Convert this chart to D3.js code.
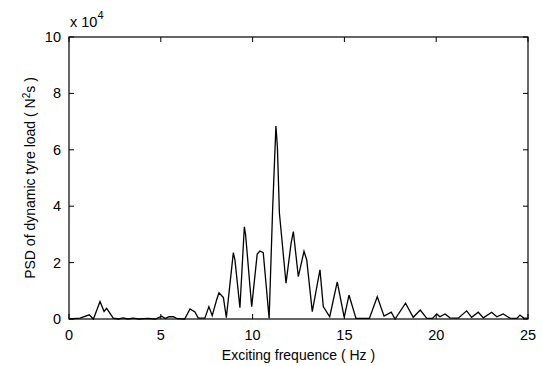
<!DOCTYPE html>
<html>
<head>
<meta charset="utf-8">
<script src="https://cdn.jsdelivr.net/npm/d3@7"></script>
<style>
  body { margin: 0; background: #fff; }
  svg { font-family: "Liberation Sans", Arial, sans-serif; }
  .tick-label { font-size: 14.5px; fill: #000; }
  .axis-title { font-size: 14px; fill: #000; }
</style>
</head>
<body>
<svg id="chart" width="542" height="366"></svg>
<script>
// exciting frequency (Hz)
const freq = [0, 0.6, 1.1, 1.33, 1.69, 1.91, 2.05, 2.41, 2.7, 2.95, 3.2, 3.5, 3.8, 4.3, 4.7,
  5.05, 5.25, 5.45, 5.68, 5.9, 6.3, 6.59, 6.86, 7.04, 7.4, 7.62, 7.8, 8.05, 8.17, 8.41,
  8.57, 8.95, 9.04, 9.31, 9.55, 9.62, 9.95, 10.25, 10.4, 10.58, 10.9, 11.09, 11.27, 11.35,
  11.46, 11.82, 12.1, 12.22, 12.49, 12.8, 12.95, 13.25, 13.6, 13.67, 13.85, 14.2, 14.61,
  14.99, 15.25, 15.63, 16.36, 16.79, 17.16, 17.55, 17.76, 18.33, 18.75, 19.13, 19.48,
  19.8, 20.03, 20.2, 20.48, 20.75, 21.2, 21.66, 21.93, 22.29, 22.57, 23.02, 23.3, 23.65,
  24.02, 24.4, 24.56, 24.75, 25];
// PSD of dynamic tyre load, in units of 1e4 N^2 s
const psd = [0, 0.03, 0.15, 0, 0.62, 0.27, 0.38, 0.03, 0, 0.04, 0, 0.03, 0, 0.02, 0,
  0.1, 0.02, 0.08, 0.08, 0.01, 0, 0.36, 0.25, 0.03, 0.03, 0.44, 0.12, 0.7, 0.93, 0.76,
  0.05, 2.35, 2.09, 0.4, 3.27, 2.98, 0.44, 2.3, 2.41, 2.35, 0.02, 3.87, 6.84, 6.11,
  3.76, 1.27, 2.7, 3.1, 1.5, 2.4, 2.09, 0.26, 1.5, 1.74, 0.44, 0.08, 1.32,
  0.06, 0.85, 0.02, 0.02, 0.79, 0.1, 0.24, 0, 0.56, 0.06, 0.32, 0.03,
  0.02, 0.18, 0.08, 0.18, 0.04, 0.03, 0.29, 0.06, 0.24, 0.04, 0.24, 0.08, 0.18,
  0.03, 0.02, 0.14, 0.04, 0.02];

const xTicks = [0, 5, 10, 15, 20, 25];
const yTicks = [0, 2, 4, 6, 8, 10];

const margin = { top: 37, right: 14, bottom: 47, left: 69 };
const width = 542 - margin.left - margin.right;
const height = 366 - margin.top - margin.bottom;

const svg = d3.select('#chart');
const g = svg.append('g').attr('transform', `translate(${margin.left},${margin.top})`);

const x = d3.scaleLinear().domain([0, 25]).range([0, width]);
const y = d3.scaleLinear().domain([0, 10]).range([height, 0]);

// box
g.append('rect')
  .attr('x', 0).attr('y', 0)
  .attr('width', width).attr('height', height)
  .attr('fill', 'none').attr('stroke', '#000').attr('stroke-width', 1.2);

// inward ticks on all four sides
const tickLen = 5;
const tk = g.append('g').attr('stroke', '#000').attr('stroke-width', 1);
xTicks.forEach(t => {
  tk.append('line').attr('x1', x(t)).attr('x2', x(t)).attr('y1', height).attr('y2', height - tickLen);
  tk.append('line').attr('x1', x(t)).attr('x2', x(t)).attr('y1', 0).attr('y2', tickLen);
});
yTicks.forEach(t => {
  tk.append('line').attr('x1', 0).attr('x2', tickLen).attr('y1', y(t)).attr('y2', y(t));
  tk.append('line').attr('x1', width).attr('x2', width - tickLen).attr('y1', y(t)).attr('y2', y(t));
});

// tick labels
g.selectAll('.xl').data(xTicks).enter().append('text')
  .attr('class', 'tick-label')
  .attr('x', d => x(d)).attr('y', height + 21)
  .attr('text-anchor', 'middle')
  .text(d => d);

g.selectAll('.yl').data(yTicks).enter().append('text')
  .attr('class', 'tick-label')
  .attr('x', -8).attr('y', d => y(d) + 5)
  .attr('text-anchor', 'end')
  .text(d => d);

// exponent label
const ex = g.append('text').attr('class', 'tick-label').attr('x', 1).attr('y', -10);
ex.append('tspan').text('x 10');
ex.append('tspan').attr('dy', -8).attr('font-size', 11).text('4');

// axis titles
g.append('text').attr('class', 'axis-title')
  .attr('x', width / 2).attr('y', height + 41)
  .attr('text-anchor', 'middle')
  .text('Exciting frequence ( Hz )');

const yt = g.append('text').attr('class', 'axis-title')
  .attr('transform', `translate(-34,${height / 2}) rotate(-90)`)
  .attr('text-anchor', 'middle');
yt.append('tspan').text('PSD of dynamic tyre load ( N');
yt.append('tspan').attr('dy', -5).attr('font-size', 10).text('2');
yt.append('tspan').attr('dy', 5).text('s )');

// data line
const pts = freq.map((f, i) => [f, psd[i]]);
const line = d3.line().x(d => x(d[0])).y(d => y(d[1]));
g.append('path')
  .datum(pts)
  .attr('d', line)
  .attr('fill', 'none')
  .attr('stroke', '#000')
  .attr('stroke-width', 1.3)
  .attr('stroke-linejoin', 'miter');
</script>
</body>
</html>
